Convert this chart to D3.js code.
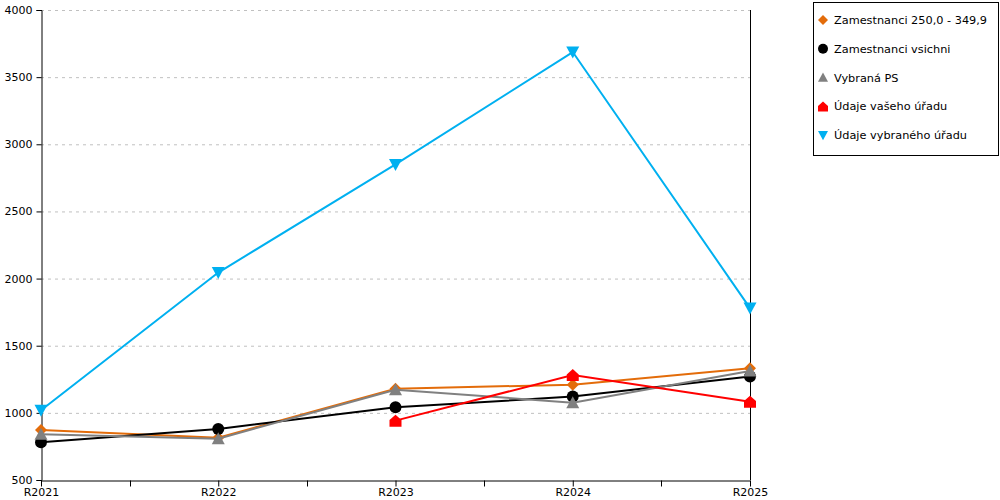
<!DOCTYPE html>
<html><head><meta charset="utf-8">
<script src="https://cdn.jsdelivr.net/npm/d3@7"></script>
<style>body{margin:0;background:#fff;}svg{display:block;font-family:"DejaVu Sans",Verdana,sans-serif;}</style>
</head><body><svg id="c" width="1000" height="500"></svg>
<script>
const categories = ["R2021","R2022","R2023","R2024","R2025"];
const yTicks = [500,1000,1500,2000,2500,3000,3500,4000];
const seriesNames = ["Zamestnanci 250,0 - 349,9","Zamestnanci vsichni","Vybraná PS","Údaje vašeho úřadu","Údaje vybraného úřadu"];
const seriesColors = ["#E36C0A","#000000","#808080","#FF0000","#00B0F0"];
const seriesMarkers = ["diamond","circle","triUp","house","triDown"];
const valsOrange = [872, 815, 1180, 1210, 1332];
const valsBlack  = [781, 880, 1041, 1121, 1270];
const valsGray   = [840, 808, 1172, 1076, 1312];
const valsRed    = [null, null, 942, 1282, 1083];
const valsBlue   = [1020, 2045, 2850, 3687, 1780];
const seriesValues = [valsOrange, valsBlack, valsGray, valsRed, valsBlue];

const svg = d3.select("#c");
const L = 41, R = 750, T = 10, B = 480;
const x = d3.scalePoint().domain(categories).range([L, R]);
const y = d3.scaleLinear().domain([500, 4000]).range([B, T]);

// grid
svg.append("g").selectAll("line").data(yTicks.filter(d=>d>500)).join("line")
  .attr("x1", L).attr("x2", R).attr("y1", d=>y(d)+0.5).attr("y2", d=>y(d)+0.5)
  .attr("stroke", "#c0c0c0").attr("stroke-dasharray", "3,4");

// right border line
svg.append("line").attr("x1", R+0.5).attr("x2", R+0.5).attr("y1", T).attr("y2", B)
  .attr("stroke", "#000");

// y axis
const ya = svg.append("g").attr("transform", `translate(${L+0.5},0)`)
  .call(d3.axisLeft(y).tickValues(yTicks).tickSize(5).tickPadding(4).tickFormat(d3.format("d")));
ya.select(".domain").attr("stroke","#000");
ya.selectAll("text").attr("font-size", 11).attr("fill","#000").attr("font-family","DejaVu Sans, sans-serif");

// x axis
const xa = svg.append("g").attr("transform", `translate(0,${B+0.5})`)
  .call(d3.axisBottom(x).tickSize(6).tickPadding(2).tickSizeOuter(0));
xa.select(".domain").attr("stroke","#000");
xa.selectAll("text").attr("font-size", 11).attr("fill","#000").attr("font-family","DejaVu Sans, sans-serif");
// minor ticks between categories
const mids = categories.slice(1).map((c,i)=>(x(categories[i])+x(c))/2);
xa.append("g").selectAll("line").data(mids).join("line")
  .attr("x1", d=>Math.round(d)+0.5).attr("x2", d=>Math.round(d)+0.5).attr("y1",0).attr("y2",6).attr("stroke","#000");

function markerPath(type, s) {
  switch(type){
    case "diamond": return `M0,${-s}L${s},0L0,${s}L${-s},0Z`;
    case "circle": return d3.symbol(d3.symbolCircle, Math.PI*s*s)();
    case "triUp": return `M0,${-s}L${s},${s*0.85}L${-s},${s*0.85}Z`;
    case "triDown": return `M0,${s}L${s},${-s*0.85}L${-s},${-s*0.85}Z`;
    case "house": return `M0,${-s}L${s},${-s*0.1}L${s},${s}L${-s},${s}L${-s},${-s*0.1}Z`;
  }
}
const sizes = {diamond:6, circle:6, triUp:6.5, triDown:6.5, house:6};

const line = d3.line().defined(d=>d.v!=null).x(d=>x(d.c)).y(d=>y(d.v));
seriesValues.forEach((vals, i) => {
  const pts = categories.map((c,j)=>({c, v: vals[j]}));
  const g = svg.append("g");
  g.append("path").datum(pts).attr("d", line).attr("fill","none")
    .attr("stroke", seriesColors[i]).attr("stroke-width", 2);
  g.selectAll("path.m").data(pts.filter(d=>d.v!=null)).join("path").attr("class","m")
    .attr("transform", d=>`translate(${x(d.c)},${y(d.v)})`)
    .attr("d", markerPath(seriesMarkers[i], sizes[seriesMarkers[i]]))
    .attr("fill", seriesColors[i]);
});

// legend
const lg = svg.append("g");
lg.append("rect").attr("x", 813.5).attr("y", 2.5).attr("width", 185).attr("height", 153)
  .attr("fill","#fff").attr("stroke","#000");
seriesNames.forEach((n,i)=>{
  const cy = 20 + i*28.8;
  lg.append("path").attr("transform", `translate(823,${cy})`)
    .attr("d", markerPath(seriesMarkers[i], 5)).attr("fill", seriesColors[i]);
  lg.append("text").attr("x", 834).attr("y", cy+4).attr("font-size", 11.3).attr("fill","#000").text(n);
});
</script></body></html>
